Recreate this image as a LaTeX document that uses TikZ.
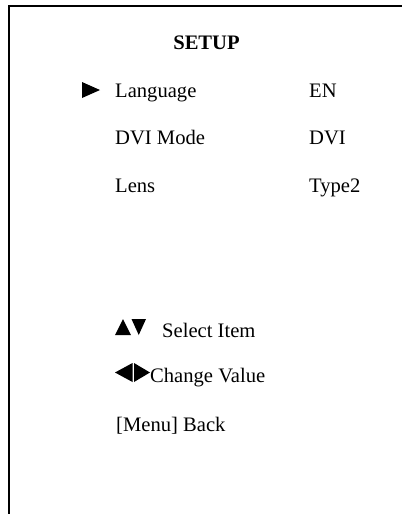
\documentclass[tikz,border=0pt]{standalone}
\usepackage{fontspec}
\setmainfont{Liberation Serif}

\begin{document}
\begin{tikzpicture}[x=1pt, y=-1pt,
    txt/.style={anchor=base west, inner sep=0pt, font=\fontsize{20.6}{24}\selectfont}]
    \useasboundingbox (0, 0) rectangle (402, 514);
    \draw[line width=2pt] (9, 514) -- (9, 6) -- (402, 6);

    \node[txt, anchor=base, font=\fontsize{20.6}{24}\selectfont\bfseries] (title) at (206.5, 49) {SETUP};

    \newcommand{\menurow}[4]{
        \node[txt] (#1) at (115, #2) {#3};
        \node[txt] (#1val) at (309, #2) {#4};
    }

    \menurow{lang}{97}{Language}{EN}
    \menurow{dvi}{144}{DVI Mode}{DVI}
    \menurow{lens}{192}{Lens}{Type2}

    % cursor
    \fill (82, 82) -- (100, 90) -- (82, 98) -- cycle;

    % key help
    \fill (115, 335) -- (131, 335) -- (123, 319) -- cycle;
    \fill (131.5, 319) -- (146, 319) -- (138.75, 335) -- cycle;
    \node[txt] (select) at (162, 337) {Select Item};

    \fill (115, 372.5) -- (132.5, 363) -- (132.5, 382) -- cycle;
    \fill (134, 363) -- (150, 372.5) -- (134, 382) -- cycle;
    \node[txt] (change) at (150, 382) {Change Value};

    \node[txt] (back) at (116, 431) {[Menu] Back};
\end{tikzpicture}
\end{document}
